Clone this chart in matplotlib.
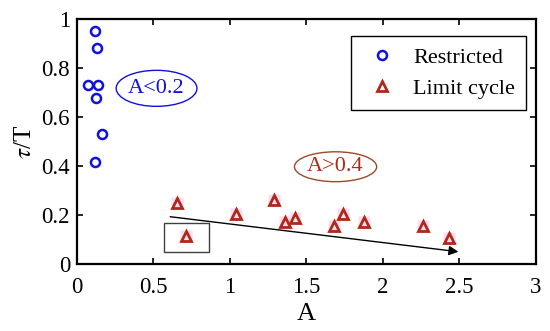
import matplotlib
matplotlib.use('Agg')
import matplotlib.pyplot as plt
from matplotlib.patches import Ellipse, Rectangle

plt.rcParams['font.family'] = ['Liberation Serif', 'DejaVu Serif']
plt.rcParams['mathtext.fontset'] = 'stix'

# Restricted motion (A < 0.2)
restricted_A = [0.118, 0.131, 0.074, 0.135, 0.124, 0.166, 0.118]
restricted_tau = [0.951, 0.880, 0.729, 0.729, 0.679, 0.529, 0.416]

# Limit cycle (A > 0.4)
limit_A = [0.653, 0.712, 1.037, 1.290, 1.362, 1.428, 1.681, 1.738, 1.876, 2.264, 2.432]
limit_tau = [0.248, 0.116, 0.203, 0.263, 0.170, 0.186, 0.155, 0.203, 0.170, 0.155, 0.107]

x_ticks = [0, 0.5, 1, 1.5, 2, 2.5, 3]
x_labels = ['0', '0.5', '1', '1.5', '2', '2.5', '3']
y_ticks = [0, 0.2, 0.4, 0.6, 0.8, 1]
y_labels = ['0', '0.2', '0.4', '0.6', '0.8', '1']

blue = '#1010E0'
red = '#B02818'
brown = '#9A4A2A'
pink = '#FCDDF2'

fig = plt.figure(figsize=(5.5, 3.31), dpi=100)
ax = fig.add_axes([0.14, 0.2024, 0.8345, 0.7402])

ax.plot(restricted_A, restricted_tau, 'o', ms=6.5, mfc='none', mec=blue, mew=1.8,
        label='Restricted', zorder=3)
ax.plot(limit_A, limit_tau, 's', ms=8.5, mfc=pink, mec='none', zorder=2)
ax.plot(limit_A, limit_tau, '^', ms=7, mfc='none', mec=red, mew=2.0,
        label='Limit cycle', zorder=3)

# trend arrow
ax.annotate('', xy=(2.493, 0.050), xytext=(0.609, 0.193),
            arrowprops=dict(arrowstyle='-|>', color='black', lw=1.0,
                            mutation_scale=14, shrinkA=0, shrinkB=0))

# outlier box
ax.add_patch(Rectangle((0.57, 0.048), 0.294, 0.118, fill=False,
                       ec='#404040', lw=1.0))

# region labels
ax.add_patch(Ellipse((0.52, 0.717), 0.528, 0.147, fill=False, ec=blue, lw=1.0))
ax.text(0.52, 0.717, 'A<0.2', color=blue, fontsize=16, ha='center', va='center')
ax.add_patch(Ellipse((1.69, 0.397), 0.537, 0.122, fill=False, ec=brown, lw=1.0))
ax.text(1.69, 0.397, 'A>0.4', color=red, fontsize=16, ha='center', va='center')

ax.set_xlim(0, 3)
ax.set_ylim(0, 1)
ax.set_xticks(x_ticks)
ax.set_xticklabels(x_labels)
ax.set_yticks(y_ticks)
ax.set_yticklabels(y_labels)
ax.tick_params(direction='in', top=True, right=True, length=4, width=1.2,
               labelsize=16.5, pad=5)
ax.tick_params(axis='x', pad=9)
for s in ax.spines.values():
    s.set_linewidth(1.6)
ax.set_xlabel('A', fontsize=19, labelpad=4)
ax.set_ylabel(r'$\tau$/T', fontsize=18, labelpad=4)

leg = ax.legend(loc='upper right', bbox_to_anchor=(0.978, 0.931), fontsize=16,
                frameon=True, fancybox=False, edgecolor='black', framealpha=1,
                borderaxespad=0, handletextpad=0.5, borderpad=0.5,
                labelspacing=0.5, handlelength=1.8)
leg.get_frame().set_linewidth(1.0)

fig.savefig('out.png', dpi=100)
